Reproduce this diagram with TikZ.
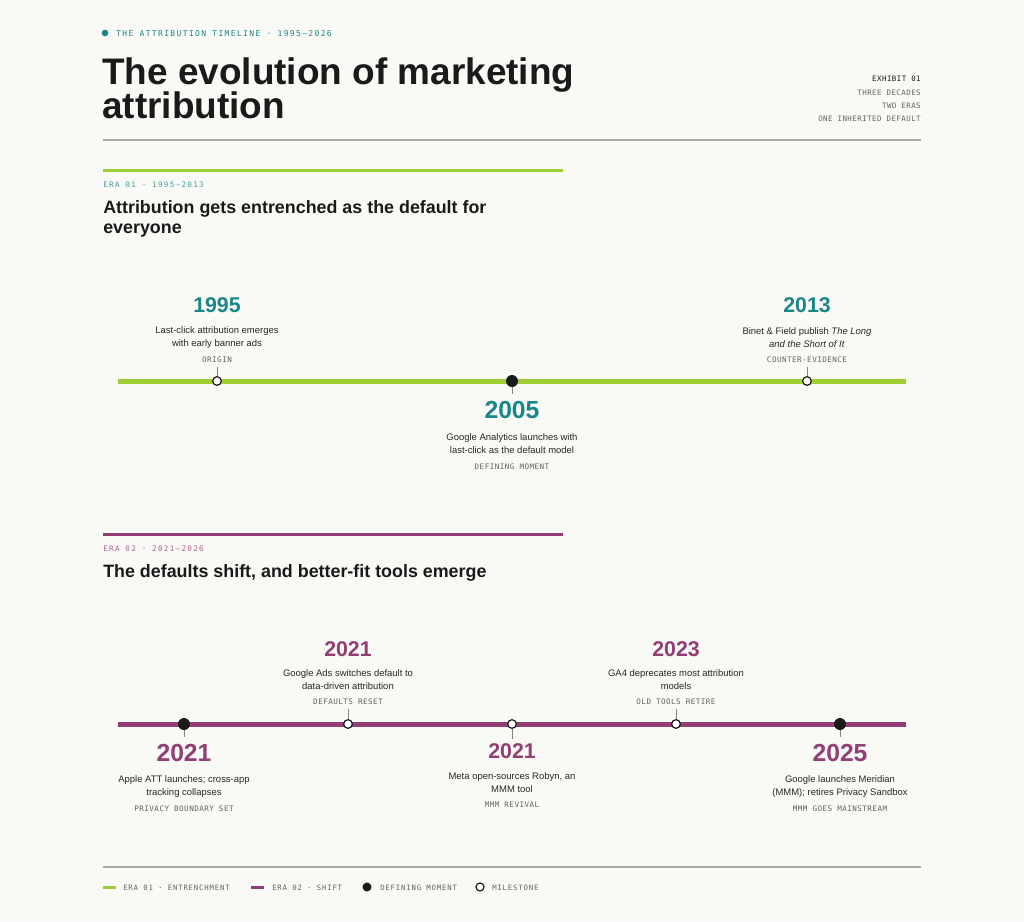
\documentclass[tikz,border=0pt]{standalone}
\usepackage{fontspec}
\setmainfont{Liberation Sans}
\newfontfamily\tagfont[LetterSpace=6]{DejaVu Sans Mono}
\newfontfamily\kickfont[LetterSpace=17]{DejaVu Sans Mono}
\newfontfamily\legfont[LetterSpace=11]{DejaVu Sans Mono}
\usetikzlibrary{positioning}

\definecolor{bgcol}{RGB}{249,249,245}
\definecolor{inkcol}{RGB}{26,26,26}
\definecolor{desccol}{RGB}{40,40,40}
\definecolor{greycol}{RGB}{100,100,100}
\definecolor{rulecol}{RGB}{170,170,165}
\definecolor{tealcol}{RGB}{27,134,137}
\definecolor{tealsoft}{RGB}{70,158,160}
\definecolor{greencol}{RGB}{159,206,52}
\definecolor{plumcol}{RGB}{146,62,116}
\definecolor{plumsoft}{RGB}{172,98,146}

\begin{document}
\begin{tikzpicture}[x=0.75pt, y=-0.75pt,
    kicker/.style={font=\kickfont\fontsize{6}{7}\selectfont, inner sep=0, anchor=base west},
    tagtext/.style={font=\tagfont\fontsize{5.7}{6}\selectfont, text=greycol, inner sep=0},
    legtext/.style={font=\legfont\fontsize{5.5}{6}\selectfont, text=greycol, inner sep=0, anchor=base west},
    sidetext/.style={font=\tagfont\fontsize{5.6}{6}\selectfont, text=greycol, inner sep=0, anchor=base east},
    heading/.style={font=\bfseries\fontsize{13.4}{15}\selectfont, text=inkcol, inner sep=0, anchor=base west},
    title/.style={font=\bfseries\fontsize{27.7}{28}\selectfont, text=inkcol, inner sep=0, anchor=base west},
    year/.style={font=\bfseries\fontsize{16}{16}\selectfont, inner sep=0},
    bigyear/.style={font=\bfseries\fontsize{18.5}{18.5}\selectfont, inner sep=0},
    desc/.style={font=\fontsize{7.1}{9.75}\selectfont, text=desccol, align=center, inner sep=0},
    milestone/.style={circle, draw=inkcol, line width=0.9pt, fill=white, minimum size=6.5pt, inner sep=0},
    moment/.style={circle, fill=inkcol, minimum size=9pt, inner sep=0},
    tickline/.style={draw=greycol!80, line width=0.6pt},
    greenline/.style={draw=greencol, line width=3.75pt},
    plumline/.style={draw=plumcol, line width=3.75pt}
  ]
  % Page
  \fill[bgcol] (0,0) rectangle (1024,921);
  \useasboundingbox (0,0) rectangle (1024,921);

  % Header
  \node[circle, fill=tealcol, minimum size=5pt, inner sep=0] (dot) at (105,33) {};
  \node[kicker, text=tealcol] (kick) at (116,36) {THE ATTRIBUTION TIMELINE · 1995–2026};
  \node[title] (title1) at (102,84) {The evolution of marketing};
  \node[title] (title2) at (102,118) {attribution};
  \node[sidetext, text=inkcol] (exh) at (921,81) {EXHIBIT 01};
  \node[sidetext] (side1) at (921,95) {THREE DECADES};
  \node[sidetext] (side2) at (921,108) {TWO ERAS};
  \node[sidetext] (side3) at (921,121) {ONE INHERITED DEFAULT};
  \draw[rulecol, line width=1.1pt] (103,140) -- (921,140);

  % Era 01
  \draw[greencol, line width=2.25pt] (103,170) -- (563,170);
  \node[kicker, font=\kickfont\fontsize{5.7}{7}\selectfont, text=tealsoft] (era1) at (103,187) {ERA 01 · 1995–2013};
  \node[heading] (head1a) at (103,213) {Attribution gets entrenched as the default for};
  \node[heading] (head1b) at (103,233) {everyone};

  \coordinate (line1s) at (118,381);
  \coordinate (line1e) at (906,381);
  \draw[greenline] (line1s) -- (line1e);

  % 1995
  \node[milestone] (m1995) at (217,381) {};
  \node[tagtext] (t1995) at (217,360) {ORIGIN};
  \node[desc] (d1995) at (217,338) {Last-click attribution emerges\\with early banner ads};
  \node[year, text=tealcol] (y1995) at (217,305) {1995};
  \draw[tickline, shorten >=3pt] (m1995.north) -- (t1995.south);

  % 2005
  \node[moment] (m2005) at (512,381) {};
  \node[bigyear, text=tealcol] (y2005) at (512,410) {2005};
  \node[desc] (d2005) at (512,444) {Google Analytics launches with\\last-click as the default model};
  \node[tagtext] (t2005) at (512,467) {DEFINING MOMENT};
  \draw[tickline, shorten >=5pt] (m2005.south) -- (y2005.north);

  % 2013
  \node[milestone] (m2013) at (807,381) {};
  \node[tagtext] (t2013) at (807,360) {COUNTER-EVIDENCE};
  \node[desc] (d2013) at (807,338) {Binet \& Field publish \textit{The Long}\\\textit{and the Short of It}};
  \node[year, text=tealcol] (y2013) at (807,305) {2013};
  \draw[tickline, shorten >=3pt] (m2013.north) -- (t2013.south);

  % Era 02
  \draw[plumcol, line width=2.25pt] (103,534) -- (563,534);
  \node[kicker, font=\kickfont\fontsize{5.7}{7}\selectfont, text=plumsoft] (era2) at (103,551) {ERA 02 · 2021–2026};
  \node[heading] (head2) at (103,577) {The defaults shift, and better-fit tools emerge};

  \coordinate (line2s) at (118,724);
  \coordinate (line2e) at (906,724);
  \draw[plumline] (line2s) -- (line2e);

  % 2021 - Apple
  \node[moment] (mApple) at (184,724) {};
  \node[bigyear, text=plumcol] (yApple) at (184,753) {2021};
  \node[desc] (dApple) at (184,787) {Apple ATT launches; cross-app\\tracking collapses};
  \node[tagtext] (tApple) at (184,809) {PRIVACY BOUNDARY SET};
  \draw[tickline, shorten >=5pt] (mApple.south) -- (yApple.north);

  % 2021 - Google Ads
  \node[milestone] (mAds) at (348,724) {};
  \node[tagtext] (tAds) at (348,702) {DEFAULTS RESET};
  \node[desc] (dAds) at (348,680) {Google Ads switches default to\\data-driven attribution};
  \node[year, text=plumcol] (yAds) at (348,649) {2021};
  \draw[tickline, shorten >=3pt] (mAds.north) -- (tAds.south);

  % 2021 - Meta
  \node[milestone] (mMeta) at (512,724) {};
  \node[year, text=plumcol] (yMeta) at (512,751) {2021};
  \node[desc] (dMeta) at (512,783) {Meta open-sources Robyn, an\\MMM tool};
  \node[tagtext] (tMeta) at (512,805) {MMM REVIVAL};
  \draw[tickline, shorten >=3pt] (mMeta.south) -- (yMeta.north);

  % 2023
  \node[milestone] (m2023) at (676,724) {};
  \node[tagtext] (t2023) at (676,702) {OLD TOOLS RETIRE};
  \node[desc] (d2023) at (676,680) {GA4 deprecates most attribution\\models};
  \node[year, text=plumcol] (y2023) at (676,649) {2023};
  \draw[tickline, shorten >=3pt] (m2023.north) -- (t2023.south);

  % 2025
  \node[moment] (m2025) at (840,724) {};
  \node[bigyear, text=plumcol] (y2025) at (840,753) {2025};
  \node[desc] (d2025) at (840,787) {Google launches Meridian\\(MMM); retires Privacy Sandbox};
  \node[tagtext] (t2025) at (840,809) {MMM GOES MAINSTREAM};
  \draw[tickline, shorten >=5pt] (m2025.south) -- (y2025.north);

  % Legend
  \draw[rulecol, line width=1.1pt] (103,867) -- (921,867);
  \draw[greencol, line width=2.25pt] (103,887) -- (116,887);
  \node[legtext] (leg1) at (123,890) {ERA 01 · ENTRENCHMENT};
  \draw[plumcol, line width=2.25pt] (251,887) -- (264,887);
  \node[legtext] (leg2) at (272,890) {ERA 02 · SHIFT};
  \node[moment, minimum size=6.8pt] (legm) at (367,887) {};
  \node[legtext] (leg3) at (380,890) {DEFINING MOMENT};
  \node[milestone, minimum size=6pt] (legs) at (480,887) {};
  \node[legtext] (leg4) at (492,890) {MILESTONE};
\end{tikzpicture}
\end{document}
